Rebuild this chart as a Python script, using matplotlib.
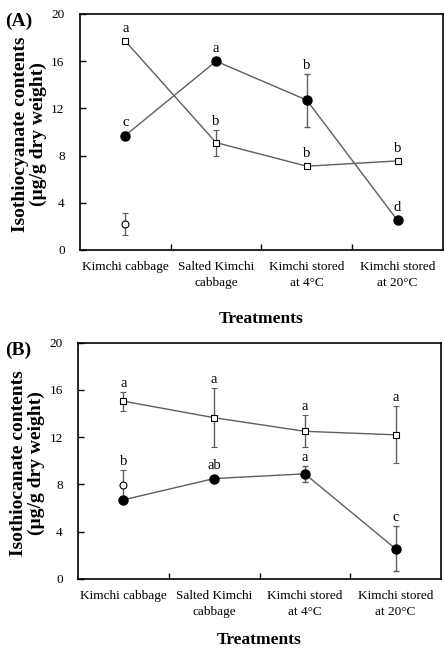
import matplotlib
matplotlib.use('Agg')
import matplotlib.pyplot as plt

plt.rcParams['font.family'] = ['Liberation Serif', 'DejaVu Serif']

treatments = ['Kimchi cabbage', 'Salted Kimchi\ncabbage', 'Kimchi stored\nat 4\u00b0C', 'Kimchi stored\nat 20\u00b0C']
xpos = [0.5, 1.5, 2.5, 3.5]

# panel A
a_filled = [9.7, 16.0, 12.7, 2.5]
a_filled_err = [0.3, 0.0, 2.25, 0.0]
a_filled_let = ['c', 'a', 'b', 'd']
a_square = [17.7, 9.1, 7.1, 7.55]
a_square_err = [0.0, 1.1, 0.0, 0.0]
a_square_let = ['a', 'b', 'b', 'b']
a_open = [2.2]
a_open_err = [0.95]

# panel B
b_filled = [6.7, 8.5, 8.9, 2.55]
b_filled_err = [0.0, 0.0, 0.65, 1.9]
b_filled_let = ['', 'ab', 'a', 'c']
b_square = [15.05, 13.65, 12.5, 12.2]
b_square_err = [0.8, 2.5, 1.35, 2.4]
b_square_let = ['a', 'a', 'a', 'a']
b_open = [7.95]
b_open_err = [1.3]
b_open_let = ['b']

line_col = '#5e5e5e'


def letters(ax, xs, ys, errs, labs):
    for x, y, e, t in zip(xs, ys, errs, labs):
        if t:
            ax.annotate(t, (x, y + max(e, 0.35)), xytext=(0, 1.5), textcoords='offset points',
                        ha='center', va='bottom', fontsize=10.5)


def panel(rect, filled, ferr, flet, sq, serr, slet, op, operr, oplet, ylab, tag, xlab_y):
    ax = fig.add_axes(rect)
    ax.errorbar(xpos, sq, yerr=serr, color=line_col, lw=1, ecolor=line_col, elinewidth=1, capsize=2,
                marker='s', ms=5, mfc='white', mec='black', mew=0.8, zorder=3)
    ax.errorbar(xpos, filled, yerr=ferr, color=line_col, lw=1, ecolor=line_col, elinewidth=1, capsize=2,
                marker='o', ms=6.5, mfc='black', mec='black', zorder=4)
    ax.errorbar(xpos[:1], op, yerr=operr, color=line_col, lw=0, ecolor=line_col, elinewidth=1, capsize=2,
                marker='o', ms=5, mfc='white', mec='black', mew=0.8, zorder=2)
    letters(ax, xpos, sq, serr, slet)
    letters(ax, xpos, filled, ferr, flet)
    if oplet:
        letters(ax, xpos[:1], op, operr, oplet)
    ax.set_xlim(0, 4)
    ax.set_ylim(0, 20)
    ax.set_yticks([0, 4, 8, 12, 16, 20])
    ax.set_xticks([1, 2, 3])
    ax.set_xticklabels([])
    ax.set_xticks(xpos, minor=True)
    ax.set_xticklabels(treatments, minor=True, fontsize=9.5, linespacing=1.45)
    ax.tick_params(axis='x', which='minor', length=0, pad=8)
    ax.tick_params(axis='both', which='major', direction='in', length=4, width=1)
    ax.tick_params(axis='y', pad=11, labelsize=9.5)
    for s in ax.spines.values():
        s.set_linewidth(1.2)
    ax.set_ylabel(ylab, fontsize=14, fontweight='bold', linespacing=1.1)
    ax.yaxis.set_label_coords(-0.09, 0.49)
    ax.set_xlabel('Treatments', fontsize=12.5, fontweight='bold')
    ax.xaxis.set_label_coords(0.5, xlab_y)
    fig.text(0.012, rect[1] + rect[3] - 0.012, tag, fontsize=14, fontweight='bold', va='center')
    return ax


fig = plt.figure(figsize=(4.44, 6.51), dpi=100)
panel([0.180, 0.616, 0.8176, 0.3625], a_filled, a_filled_err, a_filled_let, a_square, a_square_err,
      a_square_let, a_open, a_open_err, [], 'Isothiocyanate contents\n(\u00b5g/g dry weight)', '(A)', -0.258)
panel([0.1757, 0.1106, 0.8176, 0.363], b_filled, b_filled_err, b_filled_let, b_square, b_square_err,
      b_square_let, b_open, b_open_err, b_open_let, 'Isothiocanate contents\n(\u00b5g/g dry weight)', '(B)', -0.225)

fig.savefig('out.png', dpi=100)
